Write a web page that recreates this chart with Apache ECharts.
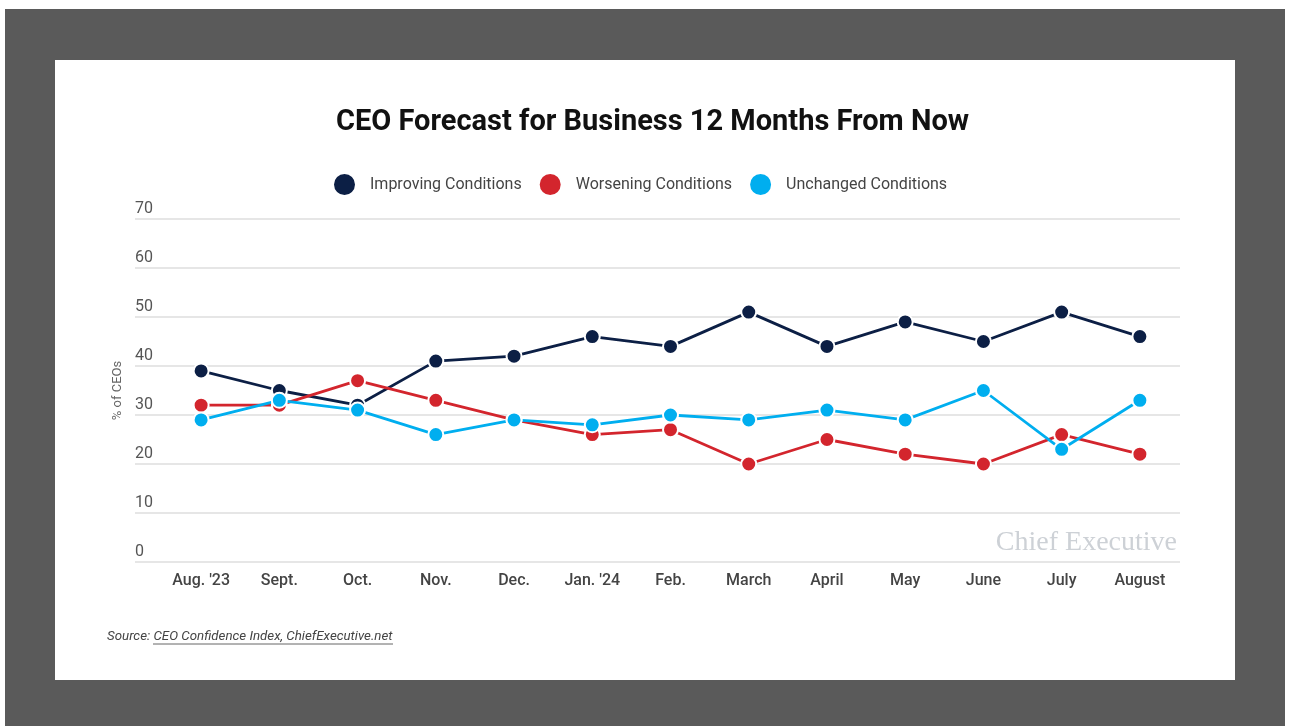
<!DOCTYPE html>
<html>
<head>
<meta charset="utf-8">
<script src="https://cdn.jsdelivr.net/npm/echarts@6/dist/echarts.min.js"></script>
<style>
  html, body { margin: 0; padding: 0; background: #fff; }
  #frame { position: absolute; left: 5px; top: 9px; width: 1280px; height: 717px; background: #5a5a5a; }
  #panel { position: absolute; left: 55px; top: 60px; width: 1180px; height: 620px; background: #fff; }
  #main { position: absolute; left: 0; top: 0; width: 1289px; height: 726px; }
</style>
</head>
<body>
<div id="frame"></div>
<div id="panel"></div>
<div id="main"></div>
<script>
var months = ['Aug. \'23', 'Sept.', 'Oct.', 'Nov.', 'Dec.', 'Jan. \'24', 'Feb.', 'March', 'April', 'May', 'June', 'July', 'August'];
var improving = [39, 35, 32, 41, 42, 46, 44, 51, 44, 49, 45, 51, 46];
var worsening = [32, 32, 37, 33, 29, 26, 27, 20, 25, 22, 20, 26, 22];
var unchanged = [29, 33, 31, 26, 29, 28, 30, 29, 31, 29, 35, 23, 33];
var yTicks = [0, 10, 20, 30, 40, 50, 60, 70];

var myChart = echarts.init(document.getElementById('main'));

function lineSeries(name, data, color) {
    return {
        name: name,
        type: 'line',
        xAxisIndex: 1,
        yAxisIndex: 1,
        data: data,
        symbol: 'circle',
        symbolSize: 15,
        lineStyle: {color: color, width: 2.8},
        itemStyle: {color: color, borderColor: '#fff', borderWidth: 2},
        emphasis: {disabled: true}
    };
}

option = {
    backgroundColor: 'transparent',
    animation: false,
    title: {
        text: 'CEO Forecast for Business 12 Months From Now',
        left: 331,
        top: 103,
        textStyle: {fontFamily: 'Roboto', fontSize: 29, fontWeight: 'bold', color: '#111'}
    },
    legend: {
        top: 167,
        left: 327,
        icon: 'circle',
        itemWidth: 23,
        itemHeight: 23,
        itemGap: 16,
        textStyle: {fontFamily: 'Roboto', fontSize: 16, color: '#444', padding: [0, 0, 0, 9]},
        data: ['Improving Conditions', 'Worsening Conditions', 'Unchanged Conditions']
    },
    grid: [
        {left: 135, right: 109, top: 219, bottom: 164},
        {left: 162, right: 110, top: 219, bottom: 164}
    ],
    xAxis: [
        {gridIndex: 0, type: 'value', show: false, min: 0, max: 1},
        {
            gridIndex: 1,
            type: 'category',
            data: months,
            axisLine: {show: false},
            axisTick: {show: false},
            axisLabel: {fontFamily: 'Roboto', fontSize: 16, fontWeight: 500, color: '#444', margin: 11}
        }
    ],
    yAxis: [
        {
            gridIndex: 0,
            type: 'value',
            min: yTicks[0],
            max: yTicks[yTicks.length - 1],
            interval: 10,
            name: '% of CEOs',
            nameLocation: 'middle',
            nameRotate: 90,
            nameGap: 11,
            nameTextStyle: {fontFamily: 'Roboto', fontSize: 13, color: '#666'},
            axisLine: {show: false},
            axisTick: {show: false},
            splitLine: {lineStyle: {color: '#dedede', width: 1.5}},
            axisLabel: {
                inside: true,
                margin: 0,
                align: 'left',
                verticalAlign: 'bottom',
                padding: [0, 0, 2, 0],
                fontFamily: 'Roboto',
                fontSize: 16,
                color: '#555'
            }
        },
        {gridIndex: 1, type: 'value', show: false, min: 0, max: 70}
    ],
    graphic: [
        {
            type: 'text',
            right: 1289 - 1177,
            top: 529,
            style: {text: 'Chief Executive', font: '28px "Liberation Serif", "DejaVu Serif", serif', fill: '#cdd1d6'}
        },
        {
            type: 'text',
            left: 107,
            top: 630,
            style: {text: 'Source: CEO Confidence Index, ChiefExecutive.net', font: 'italic 13.3px Roboto', fill: '#444'}
        },
        {
            type: 'line',
            shape: {x1: 153, y1: 644, x2: 393, y2: 644},
            style: {stroke: '#666', lineWidth: 1}
        }
    ],
    series: [
        lineSeries('Improving Conditions', improving, '#0c1f45'),
        lineSeries('Worsening Conditions', worsening, '#d3252d'),
        lineSeries('Unchanged Conditions', unchanged, '#00aeef')
    ]
};
myChart.setOption(option);
window.onresize = myChart.resize;
</script>
</body>
</html>
